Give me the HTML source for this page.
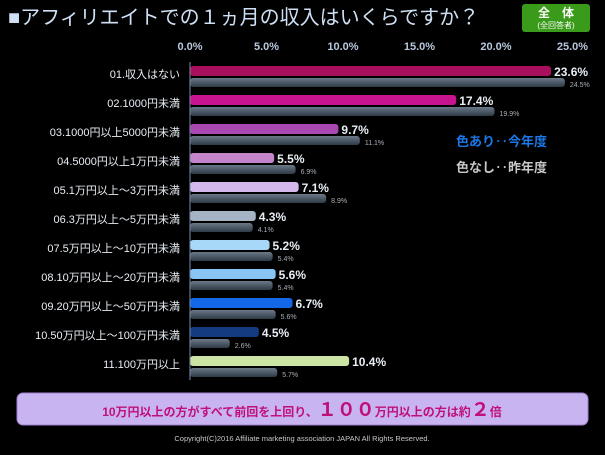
<!DOCTYPE html>
<html><head><meta charset="utf-8">
<style>
body{margin:0;width:605px;height:450px;background:#000;overflow:hidden;font-family:"Liberation Sans","Noto Sans CJK JP",sans-serif;}
svg text{font-family:"Liberation Sans","Noto Sans CJK JP",sans-serif;}
</style></head><body>
<svg id="c" width="605" height="450">
<defs>
<linearGradient id="gp" x1="0" y1="0" x2="0" y2="1"><stop offset="0" stop-color="#6a7888"/><stop offset="1" stop-color="#2e3a46"/></linearGradient>
</defs>
<text x="8" y="24" font-size="20" fill="#cfe0f4">■アフィリエイトでの１ヵ月の収入はいくらですか？</text>
<rect x="522" y="4" width="68" height="28" rx="3" fill="#3a9a1a"/>
<text x="556" y="17" font-size="12" fill="#fff" text-anchor="middle" font-weight="bold">全　体</text>
<text x="556" y="28" font-size="8" fill="#fff" text-anchor="middle">(全回答者)</text>
<text x="456" y="146" font-size="13" fill="#1a78e8" font-weight="bold">色あり‥今年度</text>
<text x="456" y="172" font-size="13" fill="#c8c8c8" font-weight="bold">色なし‥昨年度</text>
<rect x="17" y="393" width="571" height="32" rx="6" fill="#c8b4f0" stroke="#a080d0"/>
<text x="302" y="416" text-anchor="middle" fill="#c0107a" font-weight="bold" font-size="12">10万円以上の方がすべて前回を上回り、<tspan font-size="19">１００</tspan>万円以上の方は約<tspan font-size="19">２</tspan>倍</text>
<text x="302" y="441" text-anchor="middle" fill="#c8c8c8" font-size="7.5" font-family="Liberation Serif,serif">Copyright(C)2016  Affiliate marketing  association JAPAN  All Rights Reserved.</text>
<g id="plot"></g>
</svg>
<script>
const categories=["01.収入はない","02.1000円未満","03.1000円以上5000円未満","04.5000円以上1万円未満","05.1万円以上～3万円未満","06.3万円以上～5万円未満","07.5万円以上～10万円未満","08.10万円以上～20万円未満","09.20万円以上～50万円未満","10.50万円以上～100万円未満","11.100万円以上"];
const thisYear=[23.6,17.4,9.7,5.5,7.1,4.3,5.2,5.6,6.7,4.5,10.4];
const lastYear=[24.5,19.9,11.1,6.9,8.9,4.1,5.4,5.4,5.6,2.6,5.7];
const ticks=[0,5,10,15,20,25];
const colors=["#a8105e","#c8148e","#a848b0","#c484cc","#d4b8ec","#a4b4c4","#a8d8f8","#88c4f4","#1468e8","#143a80","#cce4a4"];
const ns="http://www.w3.org/2000/svg";
const g=document.getElementById("plot");
const x=v=>190+v*15.3;
const yRow=i=>66+i*29;
function mk(t,a){const e=document.createElementNS(ns,t);for(const k in a)e.setAttribute(k,a[k]);g.appendChild(e);return e;}
ticks.forEach(t=>{
 const e=mk("text",{x:x(t),y:50,"font-size":11,fill:"#b8c8dc","text-anchor":"middle","font-weight":"bold"});
 
 
 e.textContent=t.toFixed(1)+"%";
});
categories.forEach((c,i)=>{
 const y=yRow(i);
 const l=mk("text",{x:180,y:y+12,"font-size":11,fill:"#e8eef4","text-anchor":"end"});
 
 
 l.textContent=c;
 const b=mk("rect",{x:190,y:y,width:x(thisYear[i])-190,height:10,rx:3,fill:colors[i]});
 
 
 const p=mk("rect",{x:190,y:y+12,width:x(lastYear[i])-190,height:9,rx:3,fill:"url(#gp)"});
 
 
 const v=mk("text",{x:x(thisYear[i])+3,y:y+10,"font-size":12,fill:"#e8eef4","font-weight":"bold"});
 
 
 v.textContent=thisYear[i].toFixed(1)+"%";
 const w=mk("text",{x:x(lastYear[i])+5,y:y+21,"font-size":7,fill:"#a8b0b8"});
 
 
 w.textContent=lastYear[i].toFixed(1)+"%";
});
const ax=mk("line",{x1:190,y1:62,x2:190,y2:yRow(categories.length-1)+24,stroke:"#7890b0","stroke-width":1});


</script>
</body></html>
